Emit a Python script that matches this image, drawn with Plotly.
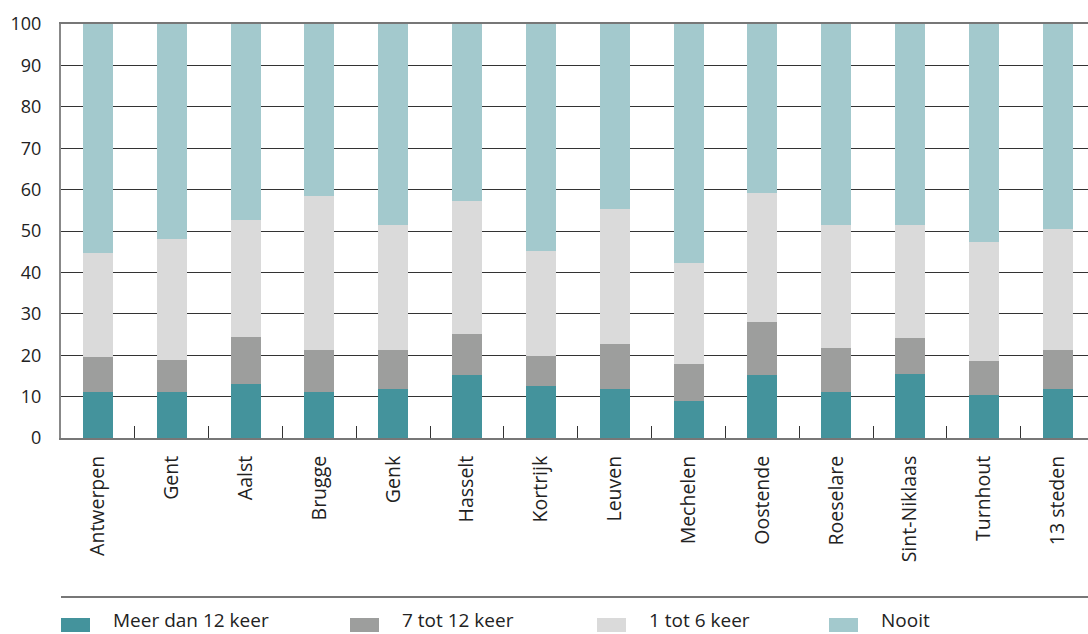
import plotly.graph_objects as go

cities = ["Antwerpen", "Gent", "Aalst", "Brugge", "Genk", "Hasselt", "Kortrijk",
          "Leuven", "Mechelen", "Oostende", "Roeselare", "Sint-Niklaas", "Turnhout", "13 steden"]

meer_dan_12 = [11.0, 11.0, 13.0, 11.0, 11.8, 15.2, 12.5, 11.8, 8.9, 15.2, 11.0, 15.4, 10.3, 11.8]
tot_7_12 = [8.5, 7.8, 11.3, 10.2, 9.4, 9.9, 7.2, 10.8, 8.9, 12.8, 10.7, 8.7, 8.2, 9.4]
tot_1_6 = [25.1, 29.2, 28.3, 37.2, 30.2, 32.1, 25.4, 32.7, 24.4, 31.2, 29.7, 27.3, 28.8, 29.2]
nooit = [55.4, 52.0, 47.4, 41.6, 48.6, 42.8, 54.9, 44.7, 57.8, 40.8, 48.6, 48.6, 52.7, 49.6]

series_names = ["Meer dan 12 keer", "7 tot 12 keer", "1 tot 6 keer", "Nooit"]
series_values = [meer_dan_12, tot_7_12, tot_1_6, nooit]
series_colors = ["#44939c", "#9d9e9d", "#dadada", "#a3c9cd"]

y_ticks = [0, 10, 20, 30, 40, 50, 60, 70, 80, 90, 100]

FONT = "Open Sans"
W, H = 1088, 634
ML, MR, MT, MB = 61, 0, 24, 196
PW = W - ML - MR
PH = H - MT - MB


def px_x(px):
    return (px - ML) / PW


def px_y(py):
    return (H - MB - py) / PH


fig = go.Figure()
for name, vals, col in zip(series_names, series_values, series_colors):
    fig.add_trace(go.Bar(x=cities, y=vals, name=name, marker=dict(color=col, line=dict(width=0)),
                         width=0.405, showlegend=False))

fig.update_layout(
    barmode="stack",
    width=W, height=H, autosize=False,
    margin=dict(l=ML, r=MR, t=MT, b=MB, pad=0),
    paper_bgcolor="white", plot_bgcolor="white",
    font=dict(family=FONT, size=18, color="#222222"),
)

fig.update_xaxes(
    range=[-0.5, 13.41],
    showgrid=False,
    showline=True, linecolor="#777777", linewidth=2, mirror=True,
    ticks="inside", tickson="boundaries", ticklen=12, tickcolor="#333333", tickwidth=1.3,
    tickangle=-90, tickfont=dict(family=FONT, size=19.5, color="#222222"),
    ticklabelstandoff=8,
)
fig.update_yaxes(
    range=[0, 100],
    tickvals=y_ticks, ticktext=[str(v) for v in y_ticks],
    showgrid=True, gridcolor="#333333", gridwidth=1.2,
    showline=True, linecolor="#888888", linewidth=2,
    ticks="", zeroline=False,
    tickfont=dict(family=FONT, size=18, color="#222222"),
    ticklabelstandoff=14,
)

# separator line above legend
fig.add_shape(type="line", xref="paper", yref="paper", x0=0, x1=1,
              y0=px_y(597), y1=px_y(597), line=dict(color="#777777", width=2))

# custom legend
legend_x = [61, 350, 597, 829]
for lx, name, col in zip(legend_x, series_names, series_colors):
    fig.add_shape(type="rect", xref="paper", yref="paper",
                  x0=px_x(lx), x1=px_x(lx + 29), y0=px_y(632), y1=px_y(618),
                  fillcolor=col, line=dict(width=0))
    fig.add_annotation(xref="paper", yref="paper", x=px_x(lx + 50), y=px_y(620),
                       text=name, showarrow=False, xanchor="left", yanchor="middle",
                       font=dict(family=FONT, size=19, color="#222222"))

fig.write_html("out.html", config={"displayModeBar": False},
               post_script="document.body.style.margin='0';document.body.style.overflow='hidden';")
